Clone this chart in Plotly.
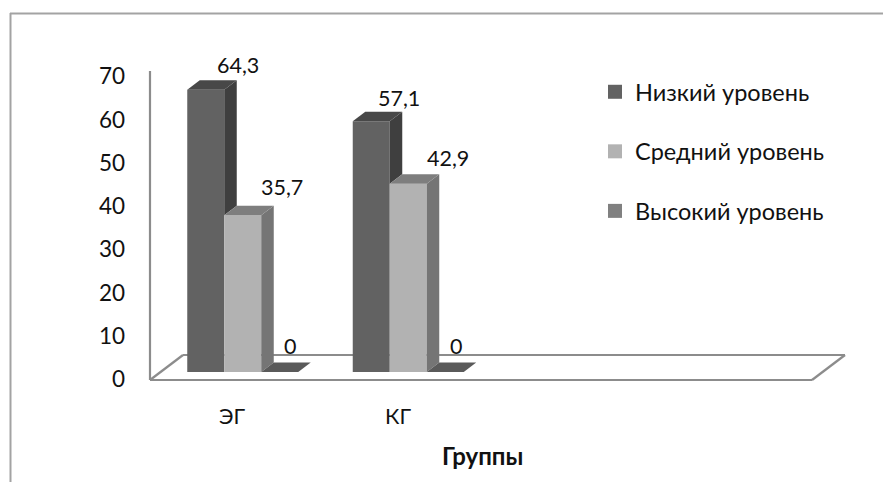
import plotly.graph_objects as go

categories = ["ЭГ", "КГ"]
series_names = ["Низкий уровень", "Средний уровень", "Высокий уровень"]
low = [64.3, 57.1]
mid = [35.7, 42.9]
high = [0, 0]
y_ticks = [0, 10, 20, 30, 40, 50, 60, 70]

# the page body adds an 8 px margin, so the figure is 8 px smaller and all
# pixel constants below are measured in the window and shifted by OFF
OFF = 8
W, H = 891 - OFF, 482 - OFF
FONT = "Lato"
TXT = "#111111"
AX = "#8c8c8c"
FRAME = "#a3a3a3"
front = ["#626262", "#b2b2b2", "#808080"]
side = ["#3f3f3f", "#757575", "#5a5a5a"]
top = ["#484848", "#7e7e7e", "#5a5a5a"]
legend_col = ["#626262", "#b2b2b2", "#808080"]

X0, CAT = 150.0 - OFF, 165.5
Y0, SY = 372.0 - OFF, 4.39
BAR = 37.0 / CAT
SHIFT = 10.0 / CAT
GAP = 0.5 - 1.5 * BAR + SHIFT
DX, DY = 12.5 / CAT, 9.5 / SY

fig = go.Figure()
series = [low, mid, high]
x_mid = [i + 0.5 + SHIFT for i in range(len(categories))]
for s, vals in enumerate(series):
    fig.add_trace(go.Bar(x=x_mid, y=vals, name=series_names[s], marker=dict(color=front[s], line=dict(width=0)),
                         showlegend=False))
for s, vals in enumerate(series):
    nxt = series[s + 1] if s + 1 < len(series) else [0] * len(vals)
    for i, v in enumerate(vals):
        l = i + GAP + s * BAR
        r = l + BAR
        n = min(v, nxt[i])
        fig.add_trace(go.Scatter(x=[r, r + DX, r + DX, r, r], y=[v, v + DY, n + DY, n, v], fill="toself",
                                 fillcolor=side[s], mode="none", showlegend=False, hoverinfo="skip"))
        fig.add_trace(go.Scatter(x=[l, r, r + DX, l + DX, l], y=[v, v, v + DY, v + DY, v], fill="toself",
                                 fillcolor=top[s], mode="none", showlegend=False, hoverinfo="skip"))
for s, n in enumerate(series_names):
    fig.add_trace(go.Scatter(x=[None], y=[None], mode="markers", name=n, legendgroup=n,
                             marker=dict(symbol="square", size=14, color=legend_col[s])))

annos = []
shifts = [[(32, 25), (28, 23)], [(39, 28), (40, 26)], [(10.5, 26), (11, 26)]]
for s, vals in enumerate(series):
    for i, v in enumerate(vals):
        cx = i + GAP + (s + 0.5) * BAR
        annos.append(dict(x=cx, y=v, text=str(v).replace(".", ","), showarrow=False, xanchor="center", yanchor="middle",
                          xshift=shifts[s][i][0], yshift=shifts[s][i][1], font=dict(family=FONT, size=21.5, color=TXT)))
for i, c in enumerate(categories):
    annos.append(dict(x=i + 0.5, y=0, text=c, showarrow=False, xanchor="center", yanchor="middle", yshift=-44,
                      font=dict(family=FONT, size=21.5, color=TXT)))
annos.append(dict(x=(483 - OFF) / W, y=1 - (455 - OFF) / H, xref="paper", yref="paper", text="<b>Группы</b>",
                  showarrow=False, xanchor="center", yanchor="middle", font=dict(family=FONT, size=24, color=TXT)))


def px(x, y):
    return dict(xref="paper", yref="paper", x0=(x[0] - OFF) / W, x1=(x[1] - OFF) / W,
                y0=1 - (y[0] - OFF) / H, y1=1 - (y[1] - OFF) / H)


line = dict(color=AX, width=2.2)
frame = dict(color=FRAME, width=2)
shapes = [
    dict(type="line", layer="below", line=line, **px((150, 150), (71, 380))),
    dict(type="line", layer="below", line=line, **px((150, 812), (380, 380))),
    dict(type="line", layer="below", line=line, **px((150, 183), (380, 355))),
    dict(type="line", layer="below", line=line, **px((183, 845), (355, 355))),
    dict(type="line", layer="below", line=line, **px((812, 845), (380, 355))),
    dict(type="line", layer="below", line=frame, **px((10, 891), (13.5, 13.5))),
    dict(type="line", layer="below", line=frame, **px((10.5, 10.5), (13, 482))),
]

fig.update_layout(
    width=W, height=H, autosize=False, margin=dict(l=0, r=0, t=0, b=0),
    paper_bgcolor="white", plot_bgcolor="rgba(0,0,0,0)",
    barmode="group", bargap=1 - 3 * BAR, bargroupgap=0,
    xaxis=dict(range=[-X0 / CAT, (W - X0) / CAT], visible=False, fixedrange=True),
    yaxis=dict(range=[(Y0 - H) / SY, Y0 / SY], visible=False, fixedrange=True),
    yaxis2=dict(overlaying="y", range=[(379.5 - OFF - H) / 4.33, (379.5 - OFF) / 4.33], tickmode="array",
                tickvals=y_ticks, anchor="free", position=(125 - OFF) / W, side="left", showgrid=False,
                zeroline=False, showline=False, ticks="", fixedrange=True,
                tickfont=dict(family=FONT, size=22.5, color=TXT)),
    annotations=annos, shapes=shapes,
    legend=dict(x=(595 - OFF) / W, y=1 - (70 - OFF) / H, xanchor="left", yanchor="top", bgcolor="rgba(0,0,0,0)",
                tracegroupgap=26, font=dict(family=FONT, size=23.5, color=TXT), itemwidth=30),
    showlegend=True,
)
fig.add_trace(go.Scatter(x=[None], y=[None], yaxis="y2", showlegend=False, mode="none"))
fig.write_html("out.html")
